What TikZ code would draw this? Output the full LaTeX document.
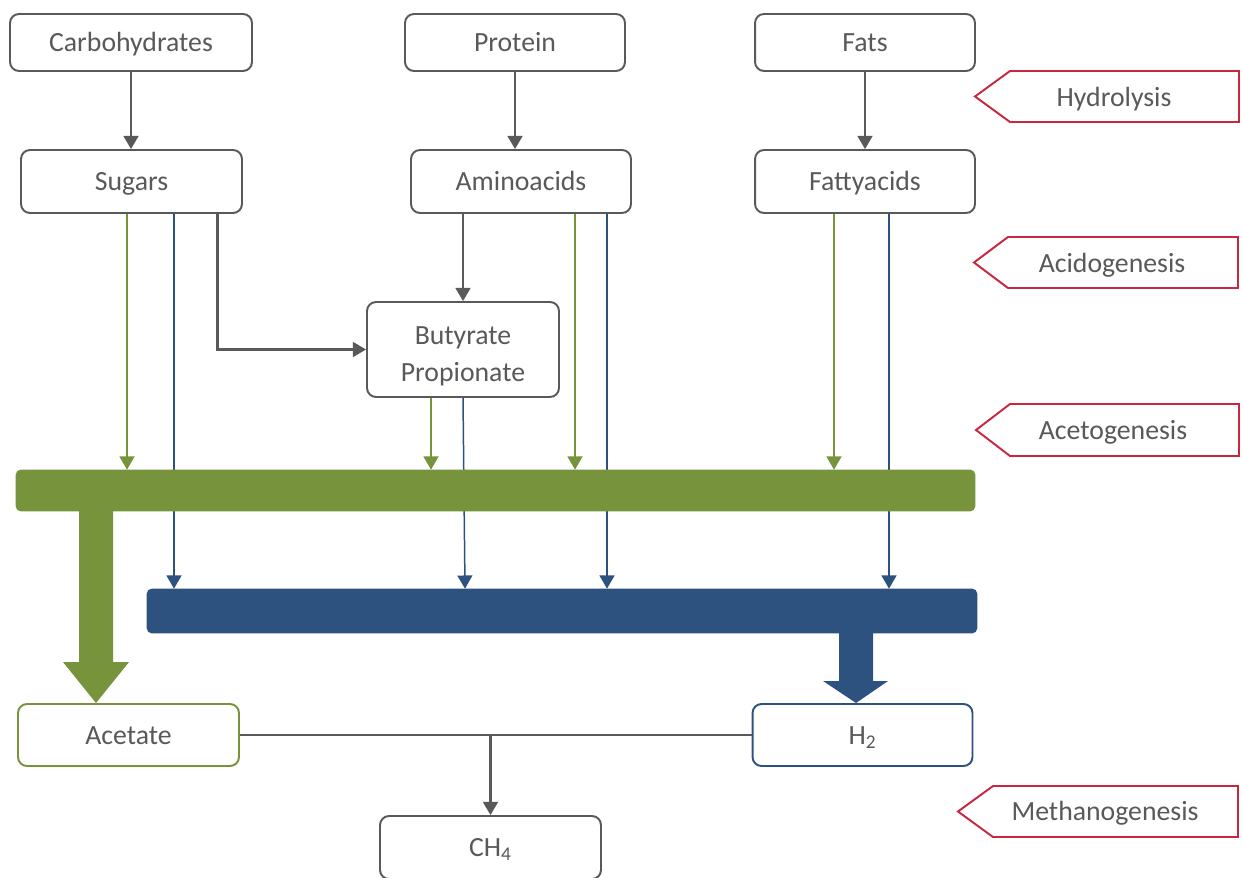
\documentclass[tikz,border=0pt]{standalone}
\usepackage{fontspec}
\setmainfont{Carlito}
\usetikzlibrary{arrows.meta,calc}
\definecolor{txtgray}{HTML}{595959}
\definecolor{lgray}{HTML}{595959}
\definecolor{ogreen}{HTML}{77933C}
\definecolor{dblue}{HTML}{2E5280}
\definecolor{tagred}{HTML}{C8283F}
\begin{document}
\begin{tikzpicture}[x=0.02cm,y=-0.02cm,
  font=\fontsize{15.8}{21}\selectfont,
  boxbase/.style={draw=lgray, line width=1.1pt, rounded corners=0.18cm, text=txtgray, inner sep=0pt, fill=white},
  box/.style={boxbase, text height=14.7pt, text depth=3.9pt},
  ga/.style={draw=lgray, line width=1.2pt, -{Triangle[length=7.5pt,width=8.5pt]}},
  gr/.style={draw=ogreen, line width=0.85pt, -{Triangle[length=7.5pt,width=8.5pt]}},
  bl/.style={draw=dblue, line width=0.85pt, -{Triangle[length=7.5pt,width=8.5pt]}},
  tag/.style={draw=tagred, line width=1.1pt, fill=white},
  tagtext/.style={text=txtgray, inner sep=0pt, text height=14.7pt, text depth=3.9pt},
  bar/.style={rounded corners=0.1cm, inner sep=0pt},
]
\clip (0,0) rectangle (1243,878);
\fill[white] (0,0) rectangle (1243,878);

% boxes
\node[box, minimum width=4.84cm, minimum height=1.14cm] (carb) at (131,42.5) {Carbohydrates};
\node[box, minimum width=4.40cm, minimum height=1.14cm] (prot) at (515,42.5) {Protein};
\node[box, minimum width=4.40cm, minimum height=1.14cm] (fats) at (865,42.5) {Fats};
\node[box, minimum width=4.42cm, minimum height=1.26cm] (sugars) at (131.5,181.5) {Sugars};
\node[box, minimum width=4.40cm, minimum height=1.26cm] (amino) at (521,181.5) {Aminoacids};
\node[box, minimum width=4.40cm, minimum height=1.26cm] (fatty) at (865,181.5) {Fattyacids};
\node[boxbase, align=center, text height=38.5pt, minimum width=3.84cm, minimum height=1.90cm] (buty) at (463,349.5) {Butyrate\\Propionate};
\node[box, draw=ogreen, minimum width=4.42cm, minimum height=1.24cm] (acetate) at (128.5,735) {Acetate};
\node[box, draw=dblue, minimum width=4.40cm, minimum height=1.24cm] (h2) at (862.5,735) {H\textsubscript{2}};
\node[box, minimum width=4.42cm, minimum height=1.26cm] (ch4) at (490.5,847.5) {CH\textsubscript{4}};

% bars (positions only, filled later for layering)
\path (495.5,490.5) node[bar, minimum width=19.18cm, minimum height=0.82cm] (gbar) {};
\path (562,611) node[bar, minimum width=16.6cm, minimum height=0.88cm] (bbar) {};

% gray arrows
\draw[ga] (carb.south) -- (carb.south |- sugars.north);
\draw[ga] (prot.south) -- (prot.south |- amino.north);
\draw[ga] (fats.south) -- (fats.south |- fatty.north);
\draw[ga] (buty.north |- amino.south) -- (buty.north);
\draw[ga] ($(sugars.south)+(86,0)$) |- (buty.west);

% blue thin arrows
\draw[bl] ($(sugars.south)+(42.5,0)$) coordinate (b1) -- (b1 |- bbar.north);
\draw[bl] (buty.south) -- ($(buty.south |- bbar.north)+(2,0)$);
\draw[bl] ($(amino.south)+(86,0)$) coordinate (b3) -- (b3 |- bbar.north);
\draw[bl] ($(fatty.south)+(24,0)$) coordinate (b4) -- (b4 |- bbar.north);

% bars
\fill[ogreen, rounded corners=0.1cm] (gbar.north west) rectangle (gbar.south east);
\fill[dblue, rounded corners=0.1cm] (bbar.north west) rectangle (bbar.south east);

% green thin arrows
\draw[gr] ($(sugars.south)+(-4.5,0)$) coordinate (g1) -- (g1 |- gbar.north);
\draw[gr] ($(buty.south)+(-32,0)$) coordinate (g2) -- (g2 |- gbar.north);
\draw[gr] ($(amino.south)+(54,0)$) coordinate (g3) -- (g3 |- gbar.north);
\draw[gr] ($(fatty.south)+(-31,0)$) coordinate (g4) -- (g4 |- gbar.north);

% big arrows
\fill[ogreen] (79,510) -- (79,662) -- (63,662) -- (96,703) -- (129,662) -- (113,662) -- (113,510) -- cycle;
\fill[dblue] (839,632) -- (839,681) -- (823,681) -- (856,703) -- (888,681) -- (873,681) -- (873,632) -- cycle;

% methanogenesis connectors
\draw[lgray, line width=1pt] (acetate.east) -- (h2.west);
\draw[ga] (ch4.north |- acetate.east) -- (ch4.north);

% phase tags
\draw[tag] (1010,71) -- (1239,71) -- (1239,122) -- (1010,122) -- (975,96.5) -- cycle;
\node[tagtext] (hydro) at (1114,97) {Hydrolysis};
\draw[tag] (1008,237) -- (1238,237) -- (1238,288) -- (1008,288) -- (974,262.5) -- cycle;
\node[tagtext] (acido) at (1112,263) {Acidogenesis};
\draw[tag] (1010,404) -- (1239,404) -- (1239,456) -- (1010,456) -- (976,430) -- cycle;
\node[tagtext] (aceto) at (1113,430.5) {Acetogenesis};
\draw[tag] (993,786) -- (1238,786) -- (1238,837) -- (993,837) -- (958,811.5) -- cycle;
\node[tagtext] (metha) at (1105,811.5) {Methanogenesis};
\end{tikzpicture}
\end{document}
